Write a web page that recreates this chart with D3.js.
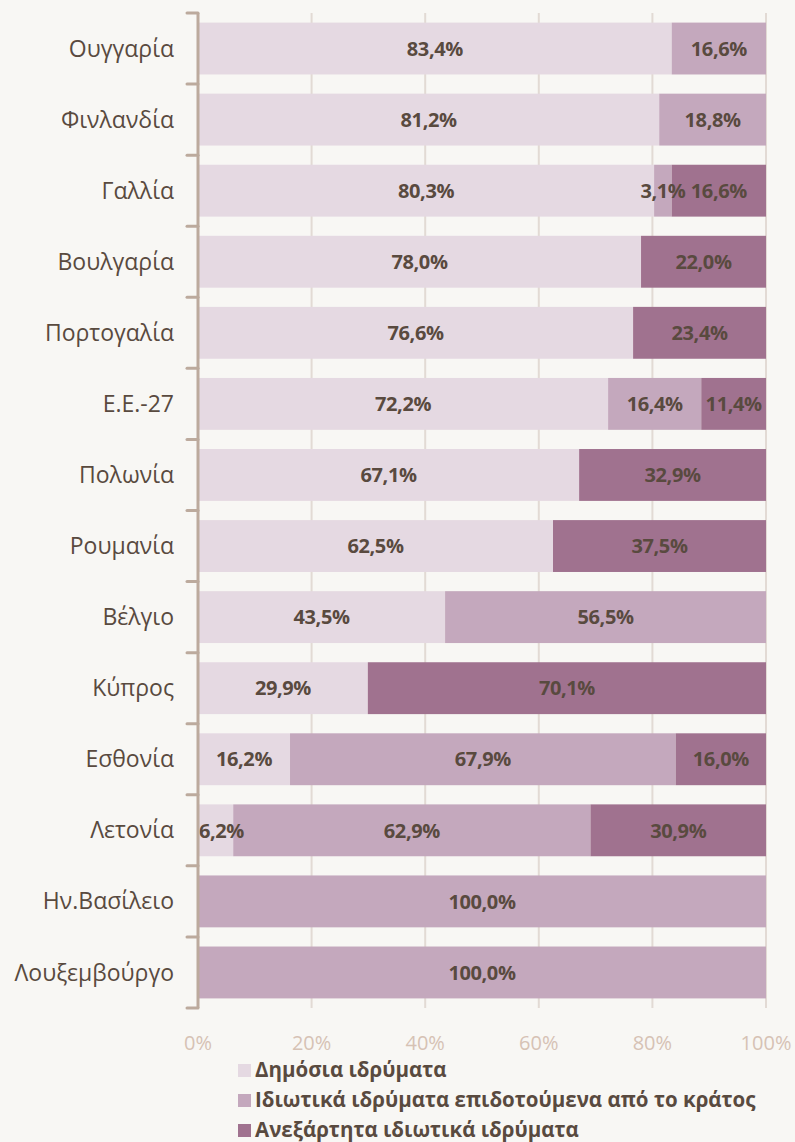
<!DOCTYPE html>
<html>
<head>
<meta charset="utf-8">
<script src="https://cdn.jsdelivr.net/npm/d3@7"></script>
<style>
  body { margin: 0; background: #f8f7f4; }
  svg { display: block; }
</style>
</head>
<body>
<svg id="chart"></svg>
<script>
// data
const countries = ['Ουγγαρία', 'Φινλανδία', 'Γαλλία', 'Βουλγαρία', 'Πορτογαλία', 'Ε.Ε.-27', 'Πολωνία',
  'Ρουμανία', 'Βέλγιο', 'Κύπρος', 'Εσθονία', 'Λετονία', 'Ην.Βασίλειο', 'Λουξεμβούργο'];
const publicInst = [83.4, 81.2, 80.3, 78.0, 76.6, 72.2, 67.1, 62.5, 43.5, 29.9, 16.2, 6.2, 0, 0];
const subsidised = [16.6, 18.8, 3.1, 0, 0, 16.4, 0, 0, 56.5, 0, 67.9, 62.9, 100.0, 100.0];
const independent = [0, 0, 16.6, 22.0, 23.4, 11.4, 32.9, 37.5, 0, 70.1, 16.0, 30.9, 0, 0];
const seriesNames = ['Δημόσια ιδρύματα', 'Ιδιωτικά ιδρύματα επιδοτούμενα από το κράτος', 'Ανεξάρτητα ιδιωτικά ιδρύματα'];
const xTicks = [0, 20, 40, 60, 80, 100];

const width = 795, height = 1142;
const margin = { top: 13, left: 198, right: 29, bottom: 134 };
const colors = ['#e5d9e2', '#c4a8bd', '#a0728f'];
const textCol = '#594a3f';

const svg = d3.select('#chart').attr('width', width).attr('height', height);

const rows = countries.map((c, i) => ({ name: c, vals: [publicInst[i], subsidised[i], independent[i]] }));

const x = d3.scaleLinear().domain([0, 100]).range([margin.left, width - margin.right]);
const y = d3.scaleBand().domain(countries).range([margin.top, height - margin.bottom]).paddingInner(0.27).paddingOuter(0.135);

// gridlines
svg.append('g')
  .selectAll('line')
  .data(xTicks.slice(1))
  .enter().append('line')
  .attr('x1', d => x(d)).attr('x2', d => x(d))
  .attr('y1', margin.top).attr('y2', height - margin.bottom)
  .style('stroke', '#e2dad4')
  .style('stroke-width', 2);

// stacked bars
const row = svg.selectAll('.row')
  .data(rows)
  .enter().append('g')
  .attr('class', 'row');

row.each(function (r) {
  const g = d3.select(this);
  let acc = 0;
  r.vals.forEach((v, k) => {
    const x0 = acc;
    acc += v;
    if (v <= 0) return;
    g.append('rect')
      .attr('x', x(x0))
      .attr('y', y(r.name))
      .attr('width', x(Math.min(acc, 100)) - x(x0))
      .attr('height', y.bandwidth())
      .style('fill', colors[k]);
  });
});

// y axis line and boundary ticks
const yStep = y.step();
const axis = svg.append('g');
axis.append('line')
  .attr('x1', margin.left).attr('x2', margin.left)
  .attr('y1', margin.top).attr('y2', height - margin.bottom)
  .style('stroke', '#bcaa9d').style('stroke-width', 3);
axis.selectAll('.tk')
  .data(d3.range(countries.length + 1))
  .enter().append('line')
  .attr('x1', margin.left - 11).attr('x2', margin.left)
  .attr('y1', i => margin.top + i * yStep).attr('y2', i => margin.top + i * yStep)
  .style('stroke', '#bcaa9d').style('stroke-width', 3).style('stroke-linecap', 'round');

// value labels, kept inside the plot area like the original
row.each(function (r) {
  const g = d3.select(this);
  let acc = 0;
  r.vals.forEach((v, k) => {
    const x0 = acc;
    acc += v;
    if (v <= 0) return;
    const t = g.append('text')
      .attr('x', (x(x0) + x(Math.min(acc, 100))) / 2)
      .attr('y', y(r.name) + y.bandwidth() / 2)
      .attr('dy', '.36em')
      .attr('text-anchor', 'middle')
      .style('font-family', 'Open Sans, sans-serif')
      .style('font-weight', 'bold')
      .style('font-size', '20px')
      .style('letter-spacing', '-0.4px')
      .style('fill', textCol)
      .text(v.toFixed(1).replace('.', ',') + '%');
    const w = t.node().getComputedTextLength();
    const cx = +t.attr('x');
    if (cx - w / 2 < margin.left + 1) t.attr('x', margin.left + 1 + w / 2);
  });
});

// category labels
svg.append('g')
  .selectAll('text')
  .data(countries)
  .enter().append('text')
  .attr('x', margin.left - 24)
  .attr('y', d => y(d) + y.bandwidth() / 2)
  .attr('dy', '.35em')
  .attr('text-anchor', 'end')
  .style('font-family', 'Open Sans, sans-serif')
  .style('font-size', '23px')
  .style('fill', textCol)
  .text(d => d);

// x tick labels
svg.append('g')
  .selectAll('text')
  .data(xTicks)
  .enter().append('text')
  .attr('x', d => x(d))
  .attr('y', 1043)
  .attr('dy', '.35em')
  .attr('text-anchor', 'middle')
  .style('font-family', 'Open Sans, sans-serif')
  .style('font-size', '20px')
  .style('fill', '#d6c2b4')
  .text(d => d + '%');

// legend
const legend = svg.append('g')
  .selectAll('g')
  .data(seriesNames)
  .enter().append('g')
  .attr('transform', (d, i) => 'translate(238,' + (1070 + i * 30) + ')');
legend.append('rect')
  .attr('x', 0).attr('y', -6)
  .attr('width', 13).attr('height', 13)
  .style('fill', (d, i) => colors[i]);
legend.append('text')
  .attr('x', 17)
  .attr('dy', '.36em')
  .style('font-family', 'Open Sans, sans-serif')
  .style('font-weight', 'bold')
  .style('font-size', '20.5px')
  .style('fill', textCol)
  .text(d => d);
</script>
</body>
</html>
